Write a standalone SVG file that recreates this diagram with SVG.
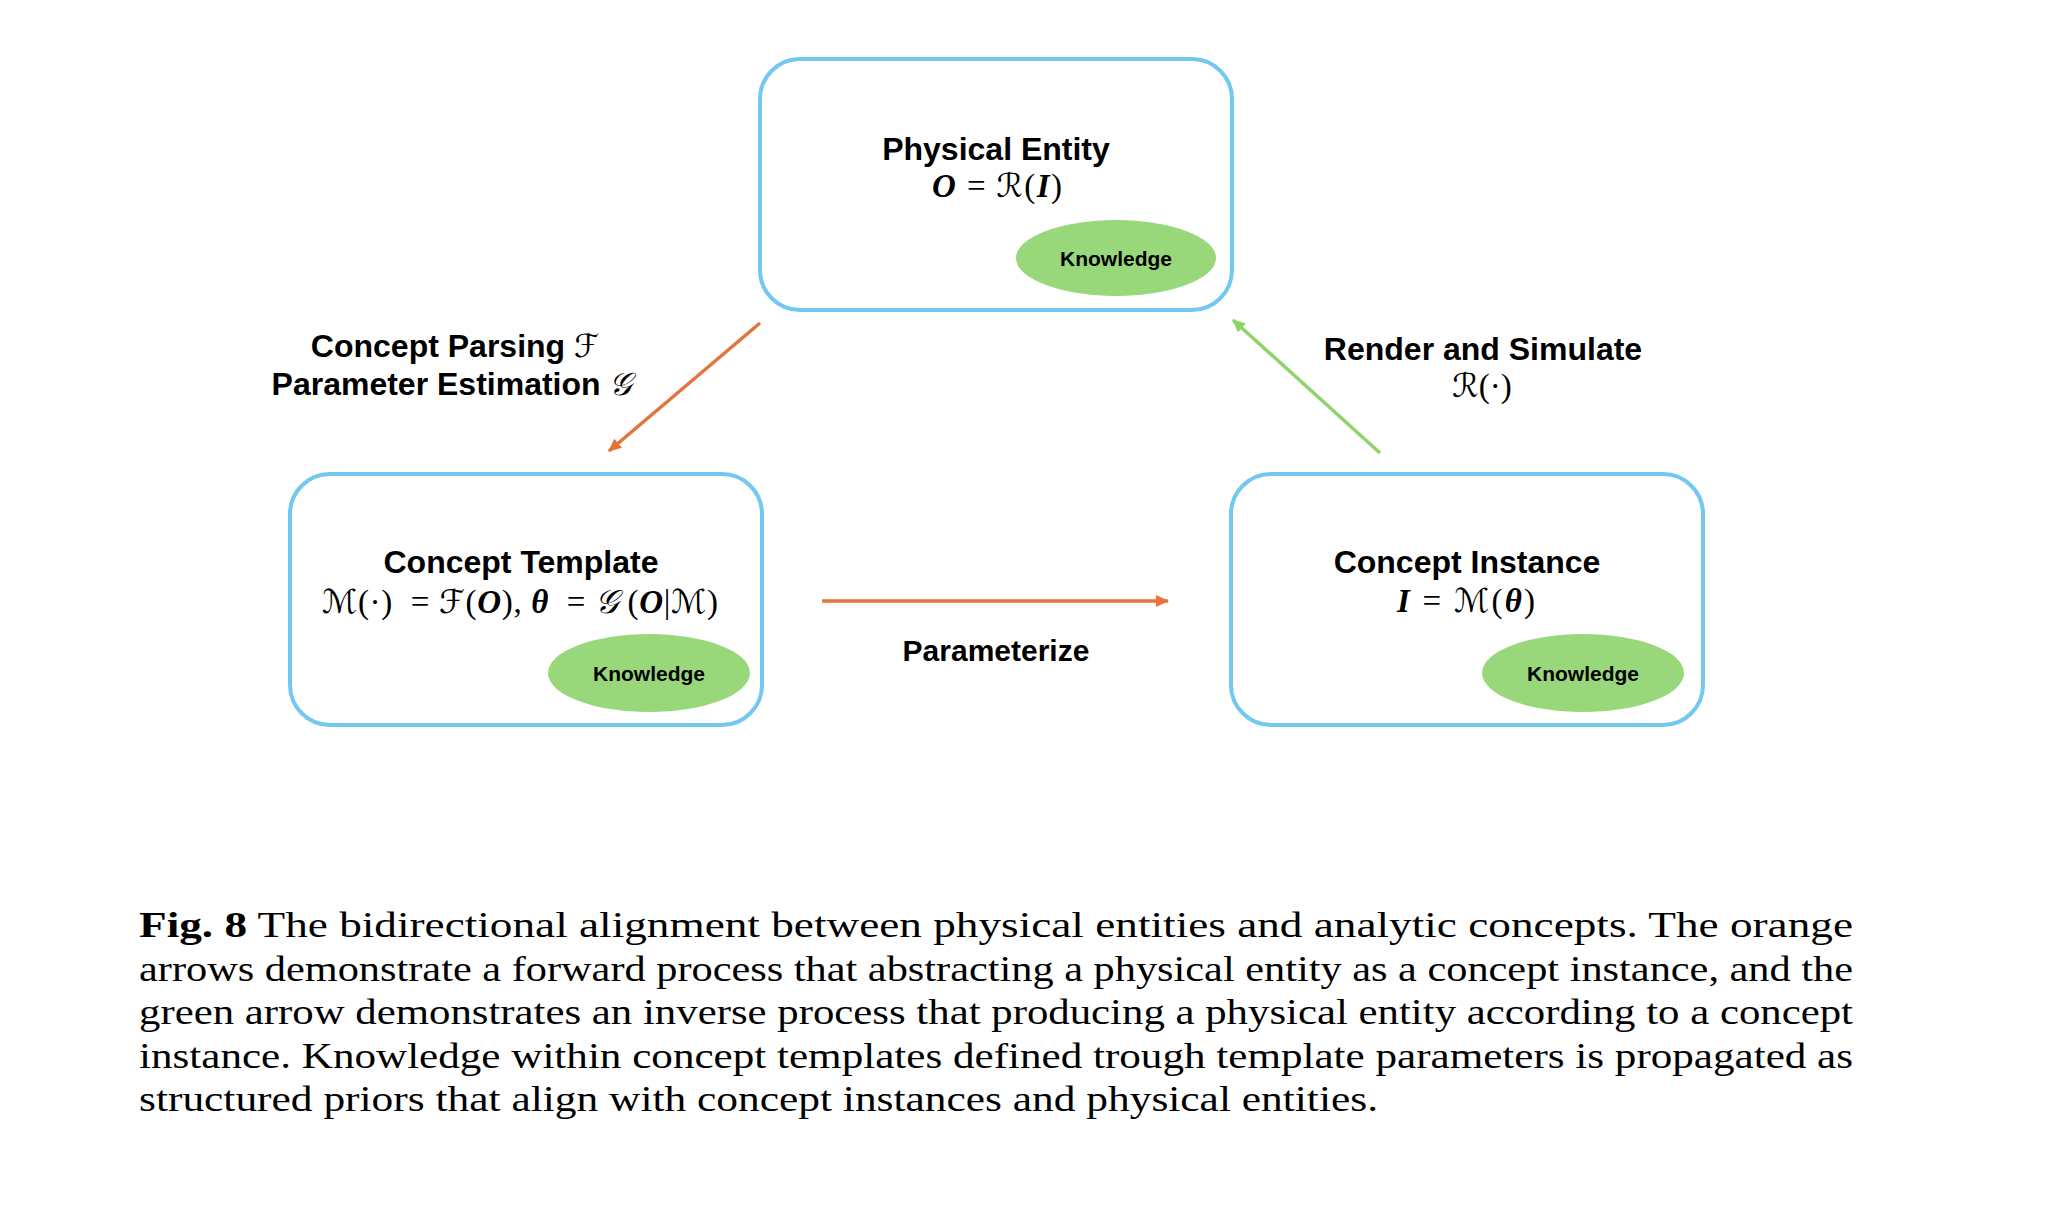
<svg xmlns="http://www.w3.org/2000/svg" width="2054" height="1230" viewBox="0 0 2054 1230">
<style>
.box{fill:#fff;stroke:#72C8F1;stroke-width:4}
.kn{fill:#98D87A}
.title{font-family:"Liberation Sans",Arial,sans-serif;font-weight:bold;font-size:32px;fill:#000;text-anchor:middle}
.kt{font-family:"Liberation Sans",Arial,sans-serif;font-weight:bold;font-size:21px;fill:#000;text-anchor:middle}
.math{font-family:"Liberation Serif","DejaVu Serif",serif;font-size:33px;fill:#000;text-anchor:middle}
.bi{font-weight:bold;font-style:italic}
.sc{font-family:"DejaVu Serif","DejaVu Sans",serif;font-style:italic;font-weight:normal}
.cap{font-family:"Liberation Serif","Times New Roman",serif;font-size:35px;fill:#000}
.or{stroke:#E5733B;stroke-width:3.5;fill:none}
.gr{stroke:#8ED46B;stroke-width:3.5;fill:none}
</style>
<defs>
<marker id="ao" markerUnits="userSpaceOnUse" markerWidth="14" markerHeight="12" refX="12" refY="6" orient="auto"><path d="M0,0 L13,6 L0,12 z" fill="#E5733B"/></marker>
<marker id="ag" markerUnits="userSpaceOnUse" markerWidth="14" markerHeight="12" refX="12" refY="6" orient="auto"><path d="M0,0 L13,6 L0,12 z" fill="#8ED46B"/></marker>
</defs>
<rect width="2054" height="1230" fill="#fff"/>

<g id="connectors">
<line class="or" x1="760" y1="323" x2="609" y2="451" marker-end="url(#ao)"/>
<line class="or" x1="822" y1="601" x2="1168" y2="601" marker-end="url(#ao)"/>
<line class="gr" x1="1380" y1="453" x2="1233" y2="320" marker-end="url(#ag)"/>
<text class="title" x="455" y="357">Concept Parsing <tspan class="sc">ℱ</tspan></text>
<text class="title" x="452" y="395">Parameter Estimation <tspan class="sc">𝒢</tspan></text>
<text class="title" x="1483" y="360">Render and Simulate</text>
<text class="math" x="1482" y="397"><tspan class="sc">ℛ</tspan>(·)</text>
<text class="title" x="996" y="661" style="font-size:30px">Parameterize</text>
</g>

<g id="physical-entity">
<rect class="box" x="760" y="59" width="472" height="251" rx="40"/>
<text class="title" x="996" y="160">Physical Entity</text>
<text class="math" x="997" y="197" textLength="130" lengthAdjust="spacing"><tspan class="bi">O</tspan> = <tspan class="sc">ℛ</tspan>(<tspan class="bi">I</tspan>)</text>
<ellipse class="kn" cx="1116" cy="258" rx="100" ry="38"/>
<text class="kt" x="1116" y="266">Knowledge</text>
</g>

<g id="concept-template">
<rect class="box" x="290" y="474" width="472" height="251" rx="40"/>
<text class="title" x="521" y="573">Concept Template</text>
<text class="math" x="520" y="613" textLength="396" lengthAdjust="spacing" xml:space="preserve"><tspan class="sc">ℳ</tspan>(·)  = <tspan class="sc">ℱ</tspan>(<tspan class="bi">O</tspan>), <tspan class="bi">θ</tspan>  = <tspan class="sc">𝒢</tspan> (<tspan class="bi">O</tspan>|<tspan class="sc">ℳ</tspan>)</text>
<ellipse class="kn" cx="649" cy="673" rx="101" ry="39"/>
<text class="kt" x="649" y="681">Knowledge</text>
</g>

<g id="concept-instance">
<rect class="box" x="1231" y="474" width="472" height="251" rx="40"/>
<text class="title" x="1467" y="573">Concept Instance</text>
<text class="math" x="1466" y="612" textLength="138" lengthAdjust="spacing"><tspan class="bi">I</tspan> = <tspan class="sc">ℳ</tspan>(<tspan class="bi">θ</tspan>)</text>
<ellipse class="kn" cx="1583" cy="673" rx="101" ry="39"/>
<text class="kt" x="1583" y="681">Knowledge</text>
</g>

<g id="caption">
<text class="cap" x="139" y="937" textLength="1714" lengthAdjust="spacingAndGlyphs"><tspan font-weight="bold">Fig. 8</tspan>  The bidirectional alignment between physical entities and analytic concepts. The orange</text>
<text class="cap" x="139" y="981" textLength="1714" lengthAdjust="spacingAndGlyphs">arrows demonstrate a forward process that abstracting a physical entity as a concept instance, and the</text>
<text class="cap" x="139" y="1024" textLength="1714" lengthAdjust="spacingAndGlyphs">green arrow demonstrates an inverse process that producing a physical entity according to a concept</text>
<text class="cap" x="139" y="1068" textLength="1714" lengthAdjust="spacingAndGlyphs">instance. Knowledge within concept templates defined trough template parameters is propagated as</text>
<text class="cap" x="139" y="1111" textLength="1239" lengthAdjust="spacingAndGlyphs">structured priors that align with concept instances and physical entities.</text>
</g>
</svg>
